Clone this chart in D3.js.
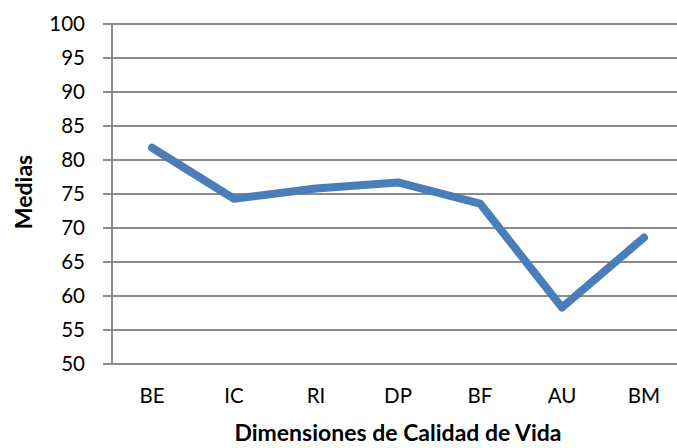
<!DOCTYPE html>
<html><head><meta charset="utf-8">
<script src="https://cdn.jsdelivr.net/npm/d3@7"></script>
<style>body{margin:0;background:#fff}svg{display:block}</style>
</head><body>
<svg id="c" width="677" height="448"></svg>
<script>
const categories = ["BE","IC","RI","DP","BF","AU","BM"];
const values = [81.8, 74.3, 75.8, 76.7, 73.6, 58.3, 68.6];
const yTicks = [50,55,60,65,70,75,80,85,90,95,100];

(function(){
const svg = d3.select("#c");
const mL = 111, mR = 685, mT = 24, mB = 364;
const x = d3.scaleBand().domain(categories).range([mL, mR]);
const y = d3.scaleLinear().domain([50,100]).range([mB, mT]);
const font = "Lato, 'Open Sans', sans-serif";

svg.append("g").selectAll("line").data(yTicks).join("line")
  .attr("x1", mL - 8).attr("x2", 677)
  .attr("y1", d => y(d)).attr("y2", d => y(d))
  .attr("stroke", "#8c8c8c").attr("stroke-width", 2);
svg.append("line").attr("x1", mL+1).attr("x2", mL+1).attr("y1", mT).attr("y2", mB)
  .attr("stroke", "#8c8c8c").attr("stroke-width", 2);

svg.append("g").selectAll("text").data(yTicks).join("text")
  .attr("x", 85).attr("y", d => y(d)).attr("dy", "0.36em")
  .attr("text-anchor", "end").attr("font-family", font).attr("font-size", 20.5)
  .attr("fill", "#000").text(d => d);

svg.append("g").selectAll("text").data(categories).join("text")
  .attr("x", d => x(d) + x.bandwidth()/2).attr("y", 403)
  .attr("text-anchor", "middle").attr("font-family", font).attr("font-size", 20.5)
  .attr("fill", "#000").text(d => d);

const line = d3.line().x((d,i) => x(categories[i]) + x.bandwidth()/2).y(d => y(d));
svg.append("path").datum(values).attr("d", line)
  .attr("fill", "none").attr("stroke", "#4a7ebb").attr("stroke-width", 8)
  .attr("stroke-linejoin", "round").attr("stroke-linecap", "round");

svg.append("text").attr("x", 398).attr("y", 441).attr("text-anchor", "middle")
  .attr("font-family", font).attr("font-weight", "bold").attr("font-size", 23)
  .text("Dimensiones de Calidad de Vida");
svg.append("text").attr("transform", "translate(32,192) rotate(-90)").attr("text-anchor", "middle")
  .attr("font-family", font).attr("font-weight", "bold").attr("font-size", 23)
  .text("Medias");
})();
</script>
</body></html>
